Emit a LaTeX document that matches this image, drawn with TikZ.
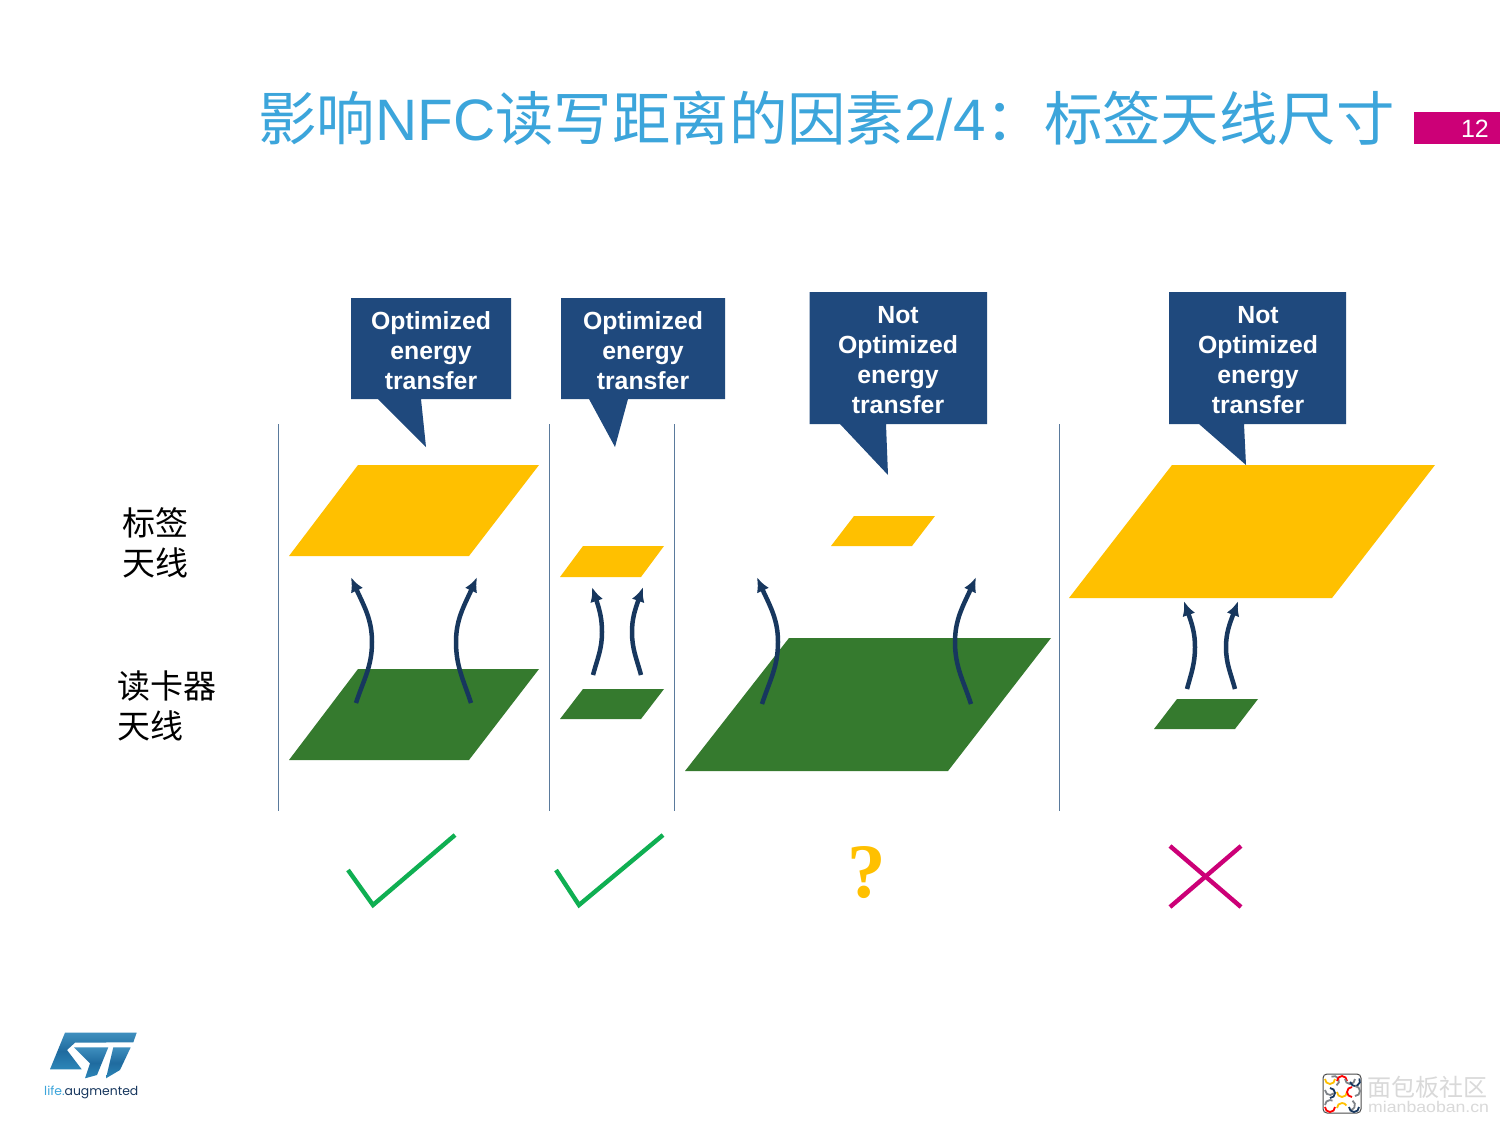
\documentclass[tikz,border=0pt]{standalone}
\usepackage{fontspec}
\usetikzlibrary{arrows.meta,bending}
\setmainfont{Liberation Sans}
\newfontfamily\cjk{Noto Sans CJK SC}
\newfontfamily\logofont{Poppins}
\definecolor{titleblue}{HTML}{3CA5DB}
\definecolor{pagemagenta}{HTML}{CC0077}
\definecolor{calloutblue}{HTML}{1F497D}
\definecolor{tagyellow}{HTML}{FFC000}
\definecolor{readergreen}{HTML}{357A2E}
\definecolor{fluxnavy}{HTML}{17375E}
\definecolor{dividerblue}{HTML}{5A7A9C}
\definecolor{okgreen}{HTML}{0FAF52}
\definecolor{logotop}{HTML}{3F8FBE}
\definecolor{logomid}{HTML}{1F6B9F}
\definecolor{logobot}{HTML}{2C86B8}
\definecolor{wmgrey}{HTML}{7F8389}
\newcommand{\px}[1]{\fontsize{#1}{#1}\selectfont}
\tikzset{
  x=1pt,y=-1pt,
  tagpad/.style={fill=tagyellow,draw=none},
  readerpad/.style={fill=readergreen,draw=none},
  calloutbody/.style={fill=calloutblue,draw=none},
  callouttext/.style={text=white,font=\bfseries\px{24.8},align=center,inner sep=0pt,text width=170pt},
  fluxarrow/.style={draw=fluxnavy,line width=4.5pt,-{Latex[length=15pt,width=13pt,bend]}},
  divider/.style={draw=dividerblue,line width=1pt},
  verdict/.style={line width=4.4pt},
  sidelabel/.style={font=\cjk\px{33},text=black,anchor=base west,inner sep=0pt},
  wm/.style={line width=1.8pt},
  logofill/.style={top color=logotop,bottom color=logobot,middle color=logomid},
}
% A curved field line from a start point through a midpoint to the tip
\newcommand{\fieldline}[9]{%
  \coordinate (#1s) at (#2,#3);
  \coordinate (#1m) at (#4,#5);
  \coordinate (#1t) at (#6,#7);
  \draw[fluxarrow] (#1s) to[out=#8,in=-90] (#1m) to[out=90,in=#9] (#1t);
}
\begin{document}
\begin{tikzpicture}
\useasboundingbox (0,0) rectangle (1500,1125);
\fill[white] (0,0) rectangle (1500,1125);

% heading and page tag
\node[anchor=base west,inner sep=0pt,text=titleblue,font=\px{58.45}] (title) at (258,140.5)
  {{\cjk 影响}NFC{\cjk 读写距离的因素}2/4{\cjk ：标签天线尺寸}};
\fill[pagemagenta] (1414,112) rectangle (1500,144);
\node[anchor=base east,inner sep=0pt,text=white,font=\px{25}] (page) at (1489,137) {12};

% column dividers
\foreach \n/\x in {a/278,b/549,c/674,d/1059}{
  \coordinate (\n top) at (\x,424);
  \coordinate (\n bot) at (\x,811);
  \draw[divider] (\n top) -- (\n bot);
}

% antenna pads
\fill[tagpad] (358,465) -- (539,465) -- (469,556) -- (289,556) -- cycle;
\fill[readerpad] (358,669) -- (539,669) -- (469,760) -- (289,760) -- cycle;
\fill[tagpad] (583,546) -- (664,546) -- (641,577) -- (560,577) -- cycle;
\fill[readerpad] (583,689) -- (664,689) -- (641,719) -- (560,719) -- cycle;
\fill[tagpad] (854,516) -- (935,516) -- (912,546) -- (831,546) -- cycle;
\fill[readerpad] (789,638) -- (1051,638) -- (948,771) -- (685,771) -- cycle;
\fill[tagpad] (1172,465) -- (1435,465) -- (1332,598) -- (1069,598) -- cycle;
\fill[readerpad] (1177,699) -- (1258,699) -- (1235,729) -- (1154,729) -- cycle;

% callouts
\fill[calloutbody] (351,298) -- (511,298) -- (511,399) -- (421,399) -- (426,447) -- (378,399) -- (351,399) -- cycle;
\node[callouttext] (c1) at (431,351) {Optimized\\[5.2pt]energy\\[5.2pt]transfer};
\fill[calloutbody] (561,298) -- (725,298) -- (725,399) -- (628,399) -- (615,447) -- (589,399) -- (561,399) -- cycle;
\node[callouttext] (c2) at (643,351) {Optimized\\[5.2pt]energy\\[5.2pt]transfer};
\fill[calloutbody] (809.5,292) -- (987,292) -- (987,424) -- (886,424) -- (888,475) -- (840,424) -- (809.5,424) -- cycle;
\node[callouttext] (c3) at (898,360) {Not\\[5.2pt]Optimized\\[5.2pt]energy\\[5.2pt]transfer};
\fill[calloutbody] (1169,292) -- (1346,292) -- (1346,424) -- (1244,424) -- (1246,465) -- (1199,424) -- (1169,424) -- cycle;
\node[callouttext] (c4) at (1258,360) {Not\\[5.2pt]Optimized\\[5.2pt]energy\\[5.2pt]transfer};

% field lines
\fieldline{f1}{356}{703}{372}{642}{351}{577}{72}{-68}
\fieldline{f2}{471}{703}{456}{642}{477}{577}{108}{-112}
\fieldline{f3}{593}{675}{602}{632}{592}{587}{75}{-72}
\fieldline{f4}{641}{675}{632}{632}{643}{587}{105}{-108}
\fieldline{f5}{762}{704}{778}{642}{757}{577}{72}{-68}
\fieldline{f6}{971}{704}{955}{642}{976}{577}{108}{-112}
\fieldline{f7}{1187}{689}{1195}{647}{1184}{601}{75}{-72}
\fieldline{f8}{1235}{689}{1226}{647}{1238}{601}{105}{-108}

% row labels
\node[sidelabel] (tag1) at (122,535) {标签};
\node[sidelabel] (tag2) at (122,575) {天线};
\node[sidelabel] (rd1) at (117,698) {读卡器};
\node[sidelabel] (rd2) at (117,738) {天线};

% verdict marks
\draw[verdict,draw=okgreen] (348,870) -- (373,905) -- (455,835);
\draw[verdict,draw=okgreen] (556,870) -- (579,905) -- (663,835);
\node[text=tagyellow,font=\fontspec{Liberation Serif}\bfseries\px{77},inner sep=0pt,anchor=base] (q) at (867,897.5) {?};
\draw[verdict,draw=pagemagenta] (1170,846) -- (1241,907);
\draw[verdict,draw=pagemagenta] (1241,846) -- (1170,907);

% company mark
\shade[logofill]
  (65,1032.7) -- (136.7,1032.7) -- (133.3,1042.3) -- (75,1042.7) -- (67,1050) -- (81.7,1069.3) -- (50,1069.3) -- cycle;
\shade[logofill]
  (74,1047.3) -- (108.3,1047.3) -- (97,1075) -- (85,1078.3) -- (90,1063.3) -- cycle;
\shade[logofill]
  (113.3,1047.3) -- (130.7,1047.3) -- (120,1070) -- (106,1078.3) -- cycle;
\node[anchor=base west,inner sep=0pt,font=\logofont\px{12.4}] (life) at (44,1095)
  {\textcolor{titleblue}{life.}\textcolor{fluxnavy}{augmented}};

% community watermark
\draw[line width=1pt,rounded corners=4pt,draw=black!70,fill=white] (1323,1074) rectangle (1361,1113);
\foreach \x/\y/\c/\s/\e in {
  1330/1079/tagyellow/0/180, 1334/1081/wmgrey/-120/60, 1342/1081/red/180/360,
  1350/1079/wmgrey/0/180, 1355/1081/fluxnavy/-30/170,
  1330/1093/fluxnavy/-90/90, 1330/1090/wmgrey/40/180, 1342/1092/tagyellow/0/180,
  1352/1092/red/90/270, 1355/1091/wmgrey/-90/90,
  1330/1105/wmgrey/180/300, 1330/1107/red/0/180, 1342/1108/tagyellow/180/330,
  1350/1105/wmgrey/-60/90, 1354/1107/fluxnavy/0/180}{
  \draw[wm,draw=\c] ([shift={(\s:5)}]\x,\y) arc[start angle=\s,end angle=\e,radius=5];
}
\node[anchor=base west,inner sep=0pt,text=black!15,font=\cjk\px{24}] (wm1) at (1367,1096) {面包板社区};
\node[anchor=base west,inner sep=0pt,text=black!15,font=\px{15.5},xscale=1.14] (wm2) at (1368,1112) {mianbaoban.cn};
\end{tikzpicture}
\end{document}
